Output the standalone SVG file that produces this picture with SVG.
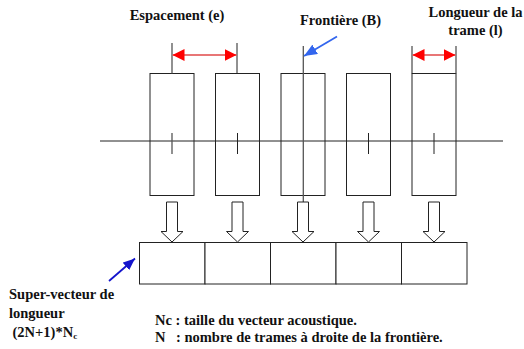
<svg xmlns="http://www.w3.org/2000/svg" width="524" height="349" viewBox="0 0 524 349">
<style>
text{font-family:"Liberation Serif","Times New Roman",serif;font-weight:bold;font-size:14.5px;fill:#111}
.frame{fill:none;stroke:#222;stroke-width:1}
.cell{fill:#fff;stroke:#222;stroke-width:1}
.ln{stroke:#222;stroke-width:1;fill:none}
.gl{stroke:#555;stroke-width:1.3;fill:none}
.blk{fill:#fff;stroke:#222;stroke-width:1}
.red{stroke:#e04848;stroke-width:1.5;fill:none}
</style>
<defs>
<marker id="rh" viewBox="0 0 12 12" refX="12" refY="6" markerWidth="12" markerHeight="12" markerUnits="userSpaceOnUse" orient="auto-start-reverse">
<path d="M0,0 L12,6 L0,12 Z" fill="#ff0000"/>
</marker>
<marker id="bh" viewBox="0 0 13 11" refX="13" refY="5.5" markerWidth="13" markerHeight="11" markerUnits="userSpaceOnUse" orient="auto">
<path d="M0,0 L13,5.5 L0,11 Z" fill="#3366ee"/>
</marker>
<marker id="dbh" viewBox="0 0 12 10" refX="12" refY="5" markerWidth="12" markerHeight="10" markerUnits="userSpaceOnUse" orient="auto">
<path d="M0,0 L12,5 L0,10 Z" fill="#1414cc"/>
</marker>
</defs>

<g id="axis">
<line class="ln" x1="100" y1="141" x2="503" y2="141"/>
</g>

<g id="frame1"><rect class="frame" x="150" y="73.5" width="44" height="122"/><line class="gl" x1="172" y1="133" x2="172" y2="154"/></g>
<g id="frame2"><rect class="frame" x="215.5" y="73.5" width="44" height="122"/><line class="ln" x1="237.5" y1="133" x2="237.5" y2="154"/></g>
<g id="frame3"><rect class="frame" x="281" y="73.5" width="44" height="122"/></g>
<g id="frame4"><rect class="frame" x="346.5" y="73.5" width="44" height="122"/><line class="ln" x1="368.5" y1="133" x2="368.5" y2="154"/></g>
<g id="frame5"><rect class="frame" x="412" y="73.5" width="44" height="122"/><line class="ln" x1="434" y1="133" x2="434" y2="154"/></g>

<g id="supervector">
<rect class="cell" x="139.5" y="242.5" width="65.5" height="41.5"/>
<rect class="cell" x="205" y="242.5" width="65.5" height="41.5"/>
<rect class="cell" x="270.5" y="242.5" width="65.5" height="41.5"/>
<rect class="cell" x="336" y="242.5" width="65.5" height="41.5"/>
<rect class="cell" x="401.5" y="242.5" width="65.5" height="41.5"/>
</g>

<g id="connectors">
<line class="gl" x1="303.3" y1="46" x2="303.3" y2="202"/>
<line class="gl" x1="172" y1="43" x2="172" y2="73.5"/>
<line class="ln" x1="237" y1="43" x2="237" y2="73.5"/>
<line class="red" x1="172.5" y1="55" x2="236.5" y2="55" marker-start="url(#rh)" marker-end="url(#rh)"/>
<line class="ln" x1="412" y1="46" x2="412" y2="73.5"/>
<line class="gl" x1="456" y1="46" x2="456" y2="73.5"/>
<line class="red" x1="412.5" y1="55" x2="455.5" y2="55" marker-start="url(#rh)" marker-end="url(#rh)"/>
<line x1="337" y1="36.5" x2="304" y2="56" stroke="#3366ee" stroke-width="1.8" marker-end="url(#bh)"/>
<line x1="109" y1="281" x2="135" y2="258.5" stroke="#1414cc" stroke-width="1.8" marker-end="url(#dbh)"/>
<path class="blk" d="M166.5,202 H177.5 V231.5 H183 L172,242 L161,231.5 H166.5 Z"/>
<path class="blk" d="M232,202 H243 V231.5 H248.5 L237.5,242 L226.5,231.5 H232 Z"/>
<path class="blk" d="M297.5,202 H308.5 V231.5 H314 L303,242 L292,231.5 H297.5 Z"/>
<path class="blk" d="M363,202 H374 V231.5 H379.5 L368.5,242 L357.5,231.5 H363 Z"/>
<path class="blk" d="M428.5,202 H439.5 V231.5 H445 L434,242 L423,231.5 H428.5 Z"/>
</g>

<g id="labels">
<text x="177" y="20" text-anchor="middle">Espacement (e)</text>
<text x="340.5" y="25" text-anchor="middle">Frontière (B)</text>
<text x="475.5" y="16.5" text-anchor="middle">Longueur de la</text>
<text x="475.5" y="35" text-anchor="middle">trame (l)</text>
<text x="9" y="299">Super-vecteur de</text>
<text x="9" y="318">longueur</text>
<text x="12.5" y="337">(2N+1)*N<tspan font-size="9" dy="2">c</tspan></text>
<text x="155" y="325">Nc : taille du vecteur acoustique.</text>
<text x="155" y="342">N<tspan x="176">: nombre de trames à droite de la frontière.</tspan></text>
</g>
</svg>
